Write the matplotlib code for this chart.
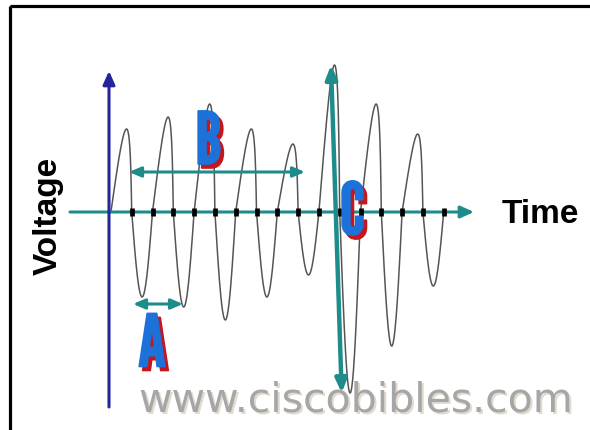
import numpy as np
import matplotlib
matplotlib.use("Agg")
import matplotlib.pyplot as plt
import matplotlib.transforms as mtransforms
import matplotlib.patheffects as pe
from matplotlib.patches import FancyArrowPatch, Rectangle

# --- data (time in half-periods, voltage in arbitrary units) ---
peak_volts = [8.3, 9.5, 10.8, 8.3, 6.8, 14.7, 10.8, 7.8]
trough_volts = [-8.5, -9.5, -10.8, -8.5, -6.3, -18.1, -13.4, -7.4]
tick_times = list(range(1, 17))

W, H = 590, 430
T0_PX, T_PX = 110.9, 20.8     # where t=0 sits, pixels per half-period
V0_PX, V_PX = 212.0, 10.0     # where v=0 sits, pixels per voltage unit

TEAL = '#1f8c8c'
NAVY = '#24249c'
BLUE = '#1c72d8'
RED = '#c3161d'

fig = plt.figure(figsize=(W / 100, H / 100), dpi=100)
ax = fig.add_axes([0, 0, 1, 1])
ax.set_xlim(-T0_PX / T_PX, (W - T0_PX) / T_PX)
ax.set_ylim(-(H - V0_PX) / V_PX, V0_PX / V_PX)
ax.axis('off')

# pixel transform for the drawing furniture (origin top-left)
px = mtransforms.Affine2D().scale(1 / W, -1 / H).translate(0, 1) + fig.transFigure

# frame
ax.add_patch(Rectangle((9.5, 6), 700, 600, transform=px, fill=False,
                       edgecolor='black', linewidth=2.3, clip_on=False))

# --- waveform: each half cycle is an arch, positive arches lean to the right ---
ts, vs = [], []
s = np.linspace(0, 1, 80)
for k in range(16):
    if k % 2 == 0:
        amp = peak_volts[k // 2]
        ts.append(k + s + 0.25 * np.sin(np.pi * s))
    else:
        amp = trough_volts[k // 2]
        ts.append(k + s)
    vs.append(amp * np.sin(np.pi * s))
ax.plot(np.concatenate(ts), np.concatenate(vs), color='#555555', lw=1.1, zorder=2)


def arrow(p0, p1, color, lw, style, **kw):
    ax.add_patch(FancyArrowPatch(p0, p1, transform=px, arrowstyle=style, color=color,
                                 linewidth=lw, shrinkA=0, shrinkB=0, clip_on=False, **kw))


# time axis
arrow((70, 212), (474, 212), TEAL, 2.2, '-|>,head_length=8,head_width=3.6', zorder=3)
# tick marks
ax.vlines(tick_times, -0.36, 0.36, color='black', lw=3.4, zorder=4)
# voltage axis
arrow((109, 407), (109, 71), NAVY, 2.2, '-|>,head_length=8,head_width=3.6', zorder=3)

# measurement arrows A, B, C
arrow((129, 172), (305, 172), TEAL, 2.2, '<|-|>,head_length=7,head_width=3', zorder=5)
arrow((133, 304), (183, 304), TEAL, 2.2, '<|-|>,head_length=7,head_width=3', zorder=5)
arrow((331, 65), (341.7, 393), TEAL, 3.2, '<|-|>,head_length=8,head_width=3.4', zorder=5)

# letters with red drop shadow
for letter, x, y in [('B', 208.5, 164), ('A', 152, 366.5), ('C', 352.5, 234.5)]:
    for dx, dy, col in [(3.5, 4, RED), (0, 0, BLUE)]:
        ax.text(x + dx, y + dy, letter, transform=px, ha='center', va='baseline',
                fontsize=52, family='League Gothic', color=col, zorder=6,
                path_effects=[pe.Stroke(linewidth=1.2, foreground=col), pe.Normal()])

# axis labels
ax.text(48, 216, 'Voltage', transform=px, rotation=90, ha='center', va='center',
        fontsize=24, fontweight='bold', family='Liberation Sans', color='black')
ax.text(502, 223, 'Time', transform=px, ha='left', va='baseline',
        fontsize=24, fontweight='bold', family='Liberation Sans', color='black')

# watermark
for dx, dy, col in [(1.5, 1.5, '#e2d9cf'), (0, 0, '#a6a6a6')]:
    ax.text(356 + dx, 412 + dy, 'www.ciscobibles.com', transform=px, ha='center',
            va='baseline', fontsize=29.5, family='DejaVu Sans', color=col, zorder=7)

fig.savefig('out.png', dpi=100)
